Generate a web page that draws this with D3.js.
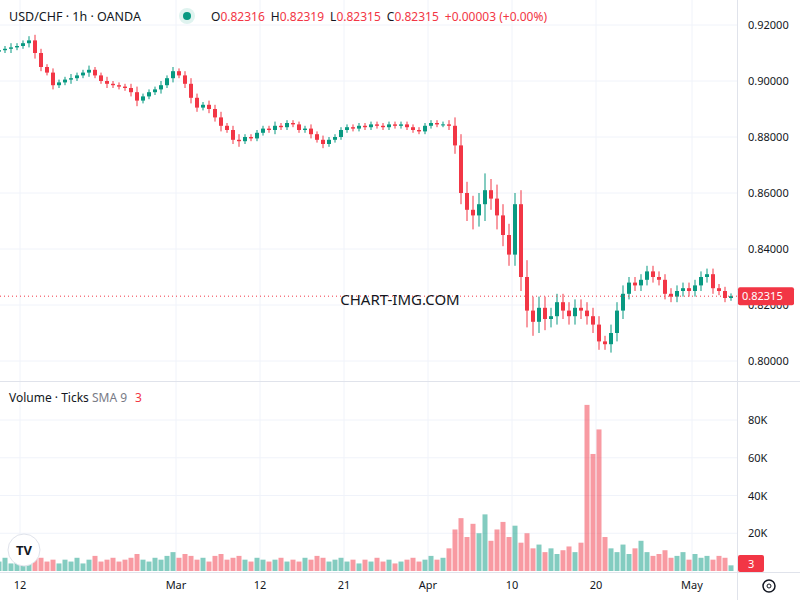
<!DOCTYPE html>
<html><head><meta charset="utf-8">
<script src="https://cdn.jsdelivr.net/npm/d3@7/dist/d3.min.js"></script>
<style>body{margin:0;background:#fff;font-family:"Noto Sans",Roboto,sans-serif}</style>
</head><body><svg id="c" width="800" height="600"></svg>
<script>
// half-day candles, closes
const closes=[0.9110,0.9115,0.9120,0.9125,0.9135,0.9145,0.9100,0.9050,0.9030,0.8985,
0.8995,0.9005,0.9010,0.9020,0.9030,0.9040,0.9020,0.9000,0.8990,0.8985,
0.8980,0.8975,0.8960,0.8930,0.8945,0.8960,0.8970,0.8985,0.9010,0.9035,
0.9020,0.8990,0.8940,0.8905,0.8915,0.8900,0.8870,0.8840,0.8825,0.8790,
0.8785,0.8800,0.8795,0.8815,0.8830,0.8825,0.8840,0.8835,0.8850,0.8845,
0.8825,0.8830,0.8810,0.8790,0.8775,0.8790,0.8800,0.8825,0.8835,0.8830,
0.8840,0.8835,0.8845,0.8840,0.8835,0.8845,0.8840,0.8845,0.8835,0.8825,
0.8820,0.8840,0.8850,0.8845,0.8845,0.8840,0.8770,0.8600,0.8540,0.8520,
0.8560,0.8610,0.8580,0.8520,0.8450,0.8380,0.8560,0.8300,0.8180,0.8140,
0.8190,0.8150,0.8160,0.8210,0.8180,0.8160,0.8190,0.8180,0.8160,0.8130,
0.8070,0.8060,0.8100,0.8180,0.8240,0.8280,0.8270,0.8290,0.8320,0.8300,
0.8290,0.8240,0.8230,0.8250,0.8260,0.8250,0.8270,0.8300,0.8310,0.8260,
0.8250,0.8225,0.82315];
const opens=[0.9105].concat(closes.slice(0,-1));
// wick extension beyond body
const wicks=[0.001,0.001,0.0015,0.001,0.001,0.0015,0.002,0.0015,0.001,0.0015,
0.001,0.001,0.0015,0.001,0.001,0.0015,0.001,0.001,0.0015,0.001,
0.001,0.001,0.0015,0.002,0.001,0.001,0.001,0.0015,0.001,0.0015,
0.001,0.0015,0.002,0.0015,0.001,0.0015,0.0015,0.002,0.001,0.0015,
0.002,0.001,0.001,0.001,0.001,0.001,0.0015,0.001,0.001,0.001,
0.001,0.001,0.0015,0.001,0.0015,0.001,0.001,0.001,0.001,0.001,
0.001,0.001,0.001,0.001,0.001,0.001,0.001,0.001,0.001,0.001,
0.001,0.001,0.001,0.001,0.001,0.0015,0.003,0.004,0.004,0.005,
0.004,0.006,0.004,0.005,0.004,0.004,0.004,0.005,0.006,0.005,
0.004,0.004,0.003,0.003,0.003,0.003,0.003,0.003,0.003,0.003,
0.003,0.002,0.003,0.003,0.003,0.002,0.002,0.002,0.002,0.002,
0.002,0.002,0.002,0.002,0.002,0.002,0.002,0.002,0.002,0.002,
0.0015,0.0015,0.001];
// volume (K ticks)
const volumes=[5,7,4,8,6,5,9,7,5,6,4,6,5,7,4,6,8,5,6,7,
5,6,7,9,6,5,7,6,8,10,7,9,8,6,7,5,8,9,6,7,
8,6,5,7,6,5,6,7,5,6,5,7,6,8,7,5,6,7,5,6,
4,6,5,7,5,6,4,5,6,7,5,6,8,6,7,12,22,28,18,25,
20,30,16,22,26,18,24,15,20,12,14,10,12,9,11,13,10,15,88,62,
75,18,12,10,14,9,12,16,10,8,9,11,7,8,10,6,9,7,8,6,
8,7,3];
const tickLabels=["12","Mar","12","21","Apr","10","20","May"];
const tickDays=[2,15,22,29,36,43,50,58];
const priceTicks=[0.80,0.82,0.84,0.86,0.88,0.90,0.92];
const volTicks=[20,40,60,80];

const up="#089981",dn="#f23645";
const svg=d3.select("#c");
const W=737;
const x=d3.scaleLinear().domain([0,122]).range([-1,731]);
const y=d3.scaleLinear().domain([0.80,0.92]).range([361,25]);
const yv=d3.scaleLinear().domain([0,80]).range([571,420]);
const grid="#f0f3fa";
// grids
svg.append("g").selectAll("line").data(priceTicks).join("line")
 .attr("x1",0).attr("x2",W).attr("y1",d=>y(d)).attr("y2",d=>y(d)).attr("stroke",grid);
svg.append("g").selectAll("line").data(volTicks).join("line")
 .attr("x1",0).attr("x2",W).attr("y1",d=>yv(d)).attr("y2",d=>yv(d)).attr("stroke",grid);
svg.append("g").selectAll("line").data(tickDays).join("line")
 .attr("x1",d=>x(2*d-0.5)).attr("x2",d=>x(2*d-0.5)).attr("y1",0).attr("y2",572).attr("stroke",grid);
// pane borders
svg.append("line").attr("x1",0).attr("x2",800).attr("y1",381.5).attr("y2",381.5).attr("stroke","#e0e3eb");
svg.append("line").attr("x1",0).attr("x2",800).attr("y1",572.5).attr("y2",572.5).attr("stroke","#e0e3eb");
svg.append("line").attr("x1",W+.5).attr("x2",W+.5).attr("y1",0).attr("y2",600).attr("stroke","#e0e3eb");
// volume
svg.append("g").selectAll("rect").data(volumes).join("rect")
 .attr("x",(d,i)=>x(i)-2.5).attr("width",5).attr("y",d=>yv(d)).attr("height",d=>yv(0)-yv(d))
 .attr("fill",(d,i)=>closes[i]>=opens[i]?up:dn).attr("opacity",0.5);
// candles
const g=svg.append("g");
closes.forEach((c,i)=>{
 const o=opens[i],col=c>=o?up:dn,hi=Math.max(o,c)+wicks[i],lo=Math.min(o,c)-wicks[i];
 g.append("line").attr("x1",x(i)).attr("x2",x(i)).attr("y1",y(hi)).attr("y2",y(lo)).attr("stroke",col);
 g.append("rect").attr("x",x(i)-2).attr("width",4).attr("y",y(Math.max(o,c)))
  .attr("height",Math.max(1,Math.abs(y(o)-y(c)))).attr("fill",col);
});
// last price line
const last=closes[closes.length-1];
svg.append("line").attr("x1",0).attr("x2",W).attr("y1",y(last)).attr("y2",y(last))
 .attr("stroke",dn).attr("stroke-dasharray","1,3");
// watermark
svg.append("text").attr("x",400).attr("y",y(last)+9).attr("text-anchor","middle")
 .attr("font-size",15).attr("fill","#131722").text("CHART-IMG.COM");
// axes text
const ax=svg.append("g").attr("font-size",11).attr("fill","#131722");
priceTicks.forEach(p=>ax.append("text").attr("x",748).attr("y",y(p)+4).text(p.toFixed(5)));
volTicks.forEach(v=>ax.append("text").attr("x",748).attr("y",yv(v)+4).text(v+"K"));
tickDays.forEach((d,k)=>ax.append("text").attr("x",x(2*d-0.5)).attr("y",589).attr("text-anchor","middle").text(tickLabels[k]));
// price label
svg.append("rect").attr("x",738).attr("y",y(last)-9).attr("width",56).attr("height",18).attr("rx",2).attr("fill",dn);
svg.append("text").attr("x",742).attr("y",y(last)+4).attr("font-size",11).attr("fill","#fff").text(last.toFixed(5));
svg.append("rect").attr("x",738).attr("y",555).attr("width",26).attr("height",17).attr("rx",2).attr("fill",dn);
svg.append("text").attr("x",748).attr("y",568).attr("font-size",11).attr("fill","#fff").text("3");
// header
const h=svg.append("text").attr("x",9).attr("y",21).attr("font-size",12.5).attr("fill","#131722");
h.append("tspan").text("USD/CHF · 1h · OANDA");
svg.append("circle").attr("cx",187).attr("cy",16).attr("r",8).attr("fill","#dff3ef");
svg.append("circle").attr("cx",187).attr("cy",16).attr("r",4).attr("fill",up);
const h2=svg.append("text").attr("x",211).attr("y",21).attr("font-size",12);
[["O","0.82316"],["H","0.82319"],["L","0.82315"],["C","0.82315"]].forEach(([a,b],k)=>{
 h2.append("tspan").attr("dx",k?6:0).attr("fill","#131722").text(a);
 h2.append("tspan").attr("fill",dn).text(b);
});
h2.append("tspan").attr("dx",6).attr("fill",dn).text("+0.00003 (+0.00%)");
const v=svg.append("text").attr("x",9).attr("y",402).attr("font-size",12);
v.append("tspan").attr("fill","#131722").text("Volume · Ticks ");
v.append("tspan").attr("fill","#787b86").text("SMA 9");
v.append("tspan").attr("dx",8).attr("fill",dn).text("3");
// logo
svg.append("circle").attr("cx",24).attr("cy",550).attr("r",16).attr("fill","#fff").attr("stroke","#e0e3eb");
svg.append("text").attr("x",24).attr("y",555).attr("text-anchor","middle").attr("font-size",13).attr("font-weight","bold").attr("fill","#131722").text("TV");
// gear
svg.append("circle").attr("cx",769).attr("cy",586).attr("r",6).attr("fill","none").attr("stroke","#131722").attr("stroke-width",1.5);
svg.append("circle").attr("cx",769).attr("cy",586).attr("r",2).attr("fill","none").attr("stroke","#131722");
</script></body></html>
